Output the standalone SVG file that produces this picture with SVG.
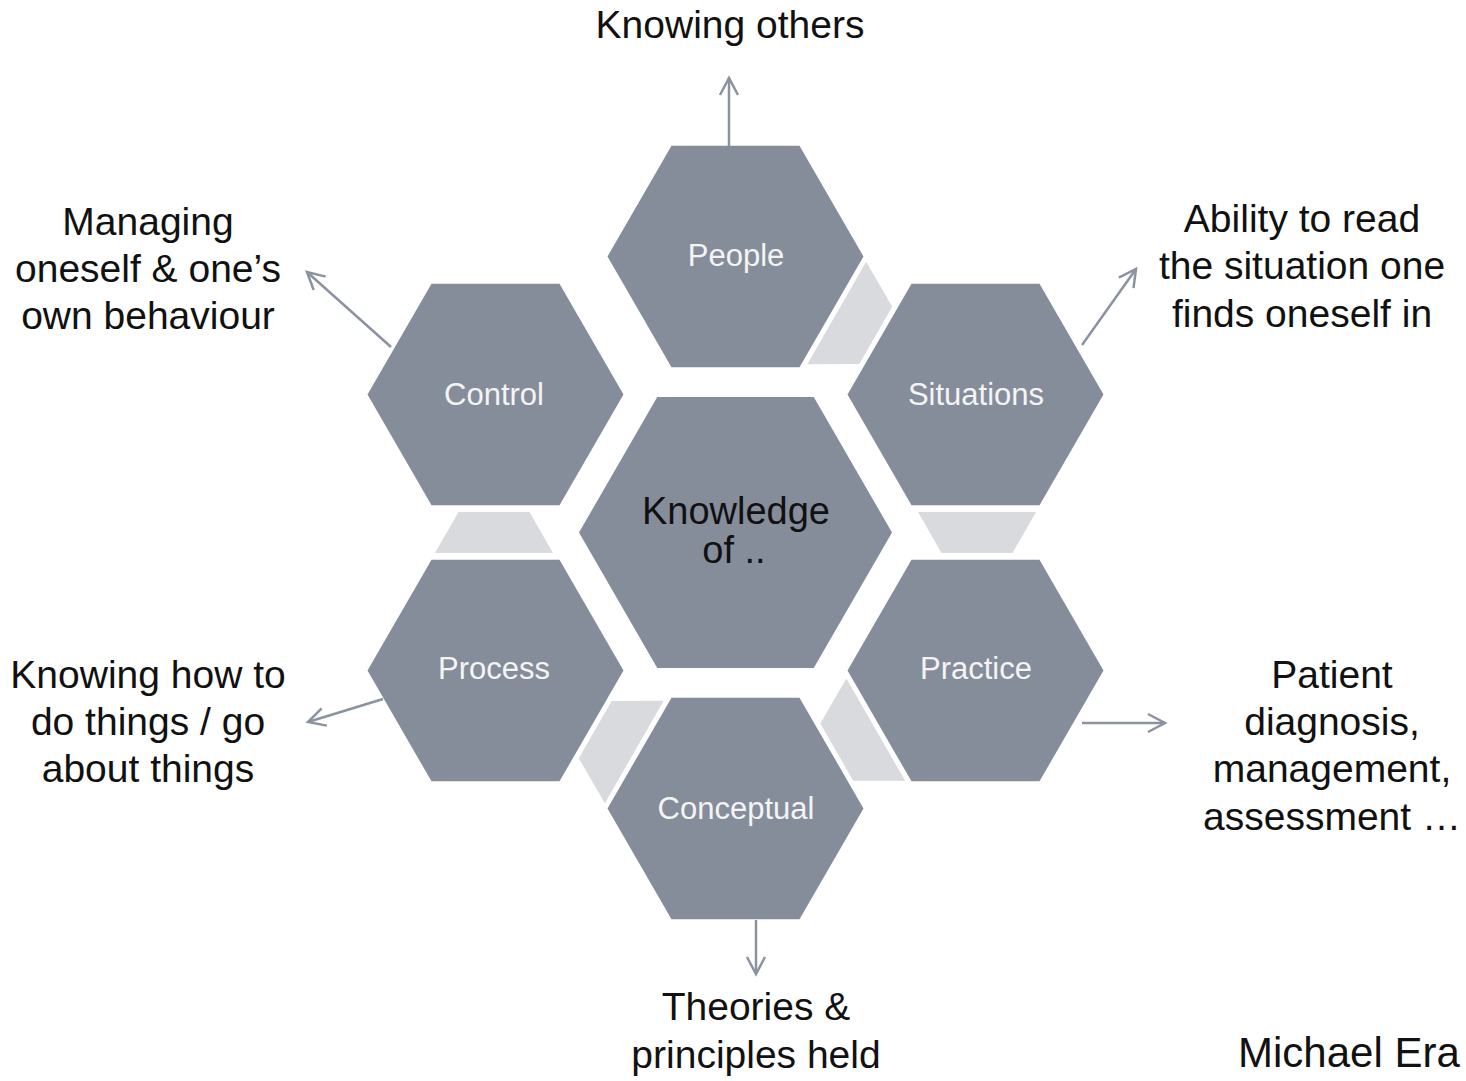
<svg xmlns="http://www.w3.org/2000/svg" width="1466" height="1081" viewBox="0 0 1466 1081">
<style>
.hex{fill:#858d9b}
.link{fill:#d9dadd}
.lbl{font-family:"Liberation Sans",Arial,sans-serif;font-size:31px;fill:#f4f4f4;text-anchor:middle}
.core{font-family:"Liberation Sans",Arial,sans-serif;font-size:38px;fill:#111111;text-anchor:middle}
.note{font-family:"Liberation Sans",Arial,sans-serif;font-size:39px;fill:#111111;text-anchor:middle}
.sig{font-family:"Liberation Sans",Arial,sans-serif;font-size:42px;fill:#111111}
.arr{stroke:#8b93a0;stroke-width:2.5;fill:none;marker-end:url(#ah)}
</style>
<defs>
<polygon id="sh" points="-128,0 -64,-110.85 64,-110.85 128,0 64,110.85 -64,110.85"/>
<polygon id="bh" points="-156.5,0 -78.25,-135.5 78.25,-135.5 156.5,0 78.25,135.5 -78.25,135.5"/>
<marker id="ah" markerUnits="userSpaceOnUse" markerWidth="30" markerHeight="30" refX="0" refY="0" orient="auto" overflow="visible">
<path d="M-17,-9 L0,0 L-17,9" fill="none" stroke="#8b93a0" stroke-width="2.5" stroke-linejoin="miter"/>
</marker>
</defs>
<rect width="1466" height="1081" fill="#ffffff"/>

<g id="links">
<polygon class="link" points="866.15,261.83 807.33,364.13 859.31,364.03 892.21,306.81"/>
<polygon class="link" points="1036,512 918,512 941.5,553 1012.5,553"/>
<polygon class="link" points="905.17,780.73 846.35,678.43 820.29,723.41 853.19,780.63"/>
<polygon class="link" points="604.85,803.17 663.67,700.87 611.69,700.97 578.79,758.19"/>
<polygon class="link" points="435,553 553,553 529.5,512 458.5,512"/>
</g>

<g id="connectors">
<line class="arr" x1="729" y1="146" x2="729" y2="78"/>
<line class="arr" x1="391" y1="347" x2="307" y2="272"/>
<line class="arr" x1="1082" y1="345" x2="1136" y2="269"/>
<line class="arr" x1="383" y1="699" x2="308" y2="722"/>
<line class="arr" x1="1082" y1="723" x2="1165" y2="723"/>
<line class="arr" x1="756" y1="920" x2="756" y2="974"/>
</g>

<g id="knowledge">
<use href="#bh" class="hex" x="735.5" y="532.5"/>
<text class="core" x="736" y="524">Knowledge</text>
<text class="core" x="734" y="563">of ..</text>
</g>
<g id="people">
<use href="#sh" class="hex" x="735.5" y="256.5"/>
<text class="lbl" x="736" y="266">People</text>
</g>
<g id="situations">
<use href="#sh" class="hex" x="975.5" y="394.5"/>
<text class="lbl" x="976" y="405">Situations</text>
</g>
<g id="practice">
<use href="#sh" class="hex" x="975.5" y="670.5"/>
<text class="lbl" x="976" y="679">Practice</text>
</g>
<g id="conceptual">
<use href="#sh" class="hex" x="735.5" y="808.5"/>
<text class="lbl" x="736" y="819">Conceptual</text>
</g>
<g id="process">
<use href="#sh" class="hex" x="495.5" y="670.5"/>
<text class="lbl" x="494" y="679">Process</text>
</g>
<g id="control">
<use href="#sh" class="hex" x="495.5" y="394.5"/>
<text class="lbl" x="494" y="405">Control</text>
</g>

<g id="notes">
<text class="note" x="730" y="38">Knowing others</text>
<text class="note" x="148" y="235">Managing</text>
<text class="note" x="148" y="282">oneself &amp; one’s</text>
<text class="note" x="148" y="329">own behaviour</text>
<text class="note" x="1302" y="232">Ability to read</text>
<text class="note" x="1302" y="279">the situation one</text>
<text class="note" x="1302" y="327">finds oneself in</text>
<text class="note" x="148" y="688">Knowing how to</text>
<text class="note" x="148" y="735">do things / go</text>
<text class="note" x="148" y="782">about things</text>
<text class="note" x="1332" y="688">Patient</text>
<text class="note" x="1332" y="735">diagnosis,</text>
<text class="note" x="1332" y="782">management,</text>
<text class="note" x="1332" y="830">assessment …</text>
<text class="note" x="756" y="1020">Theories &amp;</text>
<text class="note" x="756" y="1068">principles held</text>
<text class="sig" x="1238" y="1067">Michael Era</text>
</g>
</svg>
